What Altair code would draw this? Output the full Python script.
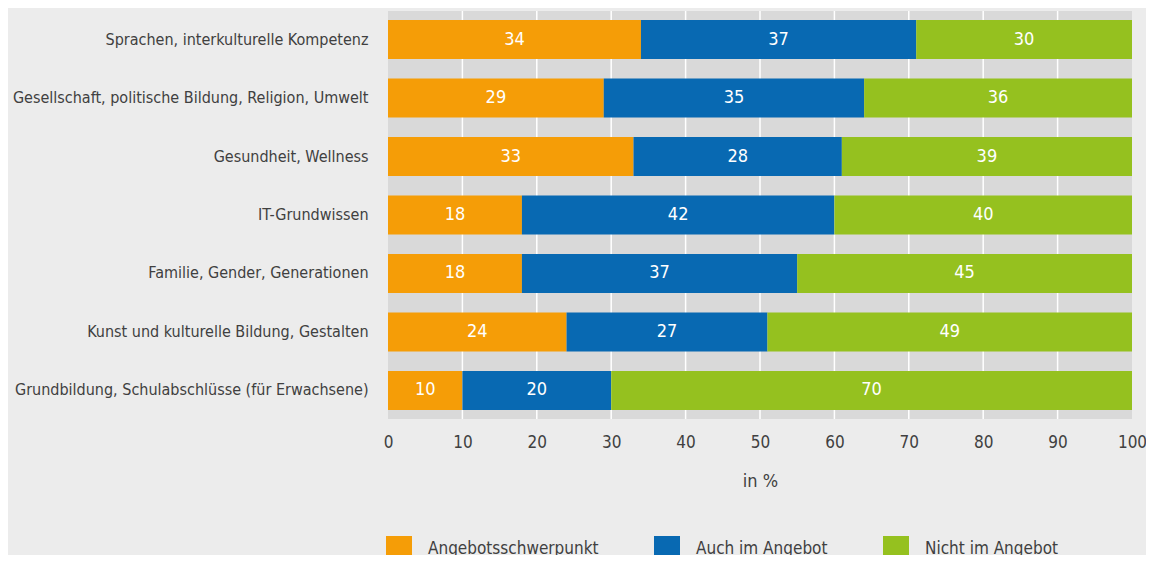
import altair as alt
import pandas as pd

categories = [
    "Sprachen, interkulturelle Kompetenz",
    "Gesellschaft, politische Bildung, Religion, Umwelt",
    "Gesundheit, Wellness",
    "IT-Grundwissen",
    "Familie, Gender, Generationen",
    "Kunst und kulturelle Bildung, Gestalten",
    "Grundbildung, Schulabschlüsse (für Erwachsene)",
]
series = ["Angebotsschwerpunkt", "Auch im Angebot", "Nicht im Angebot"]
schwerpunkt = [34, 29, 33, 18, 18, 24, 10]
auch = [37, 35, 28, 42, 37, 27, 20]
nicht = [30, 36, 39, 40, 45, 49, 70]
colors = ["#F59D07", "#0869B2", "#95C11F"]
grid_values = [10, 20, 30, 40, 50, 60, 70, 80, 90]
tick_values = [0, 10, 20, 30, 40, 50, 60, 70, 80, 90, 100]

rows = []
for i, c in enumerate(categories):
    for j, (s, vals) in enumerate(zip(series, [schwerpunkt, auch, nicht])):
        rows.append({"cat": c, "series": s, "order": j, "value": vals[i]})
df = pd.DataFrame(rows)
grid_df = pd.DataFrame({"g": grid_values})

FONT = "DejaVu Sans Condensed, sans-serif"
TXT = "#404040"

xscale = alt.Scale(domain=[0, 100], nice=False, zero=True)
yscale = alt.Scale(paddingInner=0.333, paddingOuter=0.154)

xaxis = alt.Axis(
    values=tick_values, grid=False, ticks=False, domain=False, labelFlush=False,
    title="in %", labelPadding=15, titlePadding=22,
    labelFontSize=17, titleFontSize=18, titleFontWeight="normal",
    labelColor=TXT, titleColor=TXT, labelFont=FONT, titleFont=FONT,
)

base = alt.Chart(df).transform_stack(
    stack="value", groupby=["cat"], as_=["x0", "x1"], sort=[alt.SortField("order")]
).transform_calculate(
    x1c="min(datum.x1, 100)",
    mid="(datum.x0 + min(datum.x1, 100)) / 2",
)

grid = alt.Chart(grid_df).mark_rule(color="white", strokeWidth=1.5).encode(
    x=alt.X("g:Q", scale=xscale, axis=xaxis)
)

bars = base.mark_bar().encode(
    x=alt.X("x0:Q", scale=xscale, axis=xaxis),
    x2="x1c:Q",
    y=alt.Y(
        "cat:N", sort=categories, scale=yscale,
        axis=alt.Axis(
            title=None, ticks=False, domain=False, labelPadding=20,
            labelFontSize=16, labelColor=TXT, labelFont=FONT, labelLimit=400,
        ),
    ),
    color=alt.Color(
        "series:N",
        scale=alt.Scale(domain=series, range=colors),
        legend=alt.Legend(
            title=None, orient="none", direction="horizontal",
            legendX=-2, legendY=525, symbolType="square", symbolSize=676,
            symbolStrokeWidth=0, labelFontSize=17, labelFont=FONT, labelColor=TXT,
            columnPadding=55, labelOffset=16, symbolOpacity=1, labelLimit=400,
        ),
    ),
)

labels = base.mark_text(color="white", fontSize=18, font=FONT).encode(
    x=alt.X("mid:Q", scale=xscale),
    y=alt.Y("cat:N", sort=categories, scale=yscale),
    text="value:Q",
)

chart = alt.layer(grid, bars, labels).properties(
    width=744, height=408,
    autosize=alt.AutoSizeParams(type="none"),
    padding={"left": 380, "top": 3, "right": 14, "bottom": 136},
    background="#ececec",
).configure_view(fill="#d9d9d9", stroke=None)

chart.save("out.html", embed_options={"renderer": "svg", "actions": False})
